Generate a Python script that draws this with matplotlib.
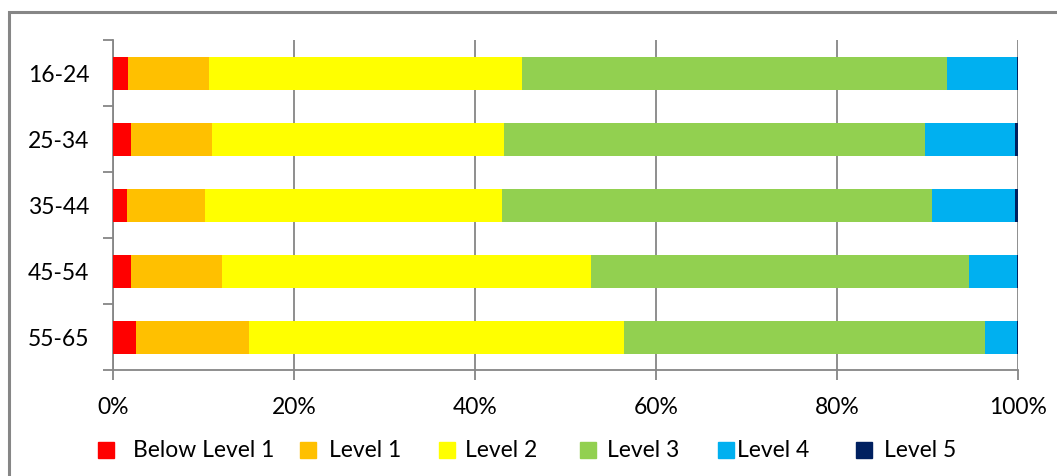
import numpy as np
import matplotlib.pyplot as plt
from matplotlib.patches import Rectangle

# age groups, top to bottom
ages = ["16-24", "25-34", "35-44", "45-54", "55-65"]
levels = ["Below Level 1", "Level 1", "Level 2", "Level 3", "Level 4", "Level 5"]
colors = ["#FF0000", "#FFC000", "#FFFF00", "#92D050", "#00B0F0", "#002060"]

# share of each age group (%) per level
below_1 = [1.7, 2.0, 1.5, 2.0, 2.5]
level_1 = [8.9, 8.9, 8.7, 10.0, 12.5]
level_2 = [34.6, 32.3, 32.8, 40.8, 41.5]
level_3 = [47.0, 46.5, 47.5, 41.8, 39.9]
level_4 = [7.7, 10.0, 9.2, 5.3, 3.5]
level_5 = [0.1, 0.3, 0.3, 0.1, 0.1]

series = [below_1, level_1, level_2, level_3, level_4, level_5]

plt.rcParams['font.family'] = ['Lato', 'DejaVu Sans']
grey = "#868686"
W, H = 1057, 477

fig = plt.figure(figsize=(W/100, H/100), dpi=100)
ax = fig.add_axes([113/W, 1-371/H, 905/W, 330/H])

# outer chart frame (only left and top edges are inside the picture)
fig.patches.append(Rectangle((9/W, -0.1), 1.2, 1-13/H+0.1, transform=fig.transFigure,
                             fill=False, edgecolor=grey, linewidth=2.2))

y = np.arange(len(ages))
left = np.zeros(len(ages))
for name, vals, c in zip(levels, series, colors):
    ax.barh(y, vals, left=left, height=0.5, color=c, label=name, zorder=3)
    left += np.array(vals)

ax.set_xlim(0, 100)
ax.set_ylim(4.5, -0.5)
ax.set_xticks(np.arange(0, 101, 20))
ax.set_xticklabels([f"{v}%" for v in range(0, 101, 20)])
ax.xaxis.grid(True, color=grey, linewidth=1.3, zorder=0)

# category ticks between bars, labels at bar centres
ax.set_yticks(np.arange(-0.5, 5, 1))
ax.set_yticklabels([])
ax.set_yticks(y, minor=True)
ax.set_yticklabels(ages, minor=True)
ax.tick_params(axis='y', which='minor', length=0, pad=17, labelsize=16.5)
ax.tick_params(axis='y', which='major', length=7, color=grey, width=1.3)
ax.tick_params(axis='x', length=7, color=grey, width=1.3, pad=12, labelsize=16.5)

for s in ['top', 'right']:
    ax.spines[s].set_visible(False)
for s in ['left', 'bottom']:
    ax.spines[s].set_color(grey)
    ax.spines[s].set_linewidth(1.3)

# legend laid out like the original (uneven gaps)
key_x = [98, 300, 439, 580, 718, 856]
text_x = [133, 329, 465, 607, 737, 884]
leg_y = 451
for name, c, kx, tx in zip(levels, colors, key_x, text_x):
    fig.patches.append(Rectangle((kx/W, 1-(leg_y+8)/H), 16/W, 16/H,
                                 transform=fig.transFigure, color=c))
    fig.text(tx/W, 1-leg_y/H, name, fontsize=16.5, va='center', ha='left')

fig.savefig("out.png", dpi=100)
